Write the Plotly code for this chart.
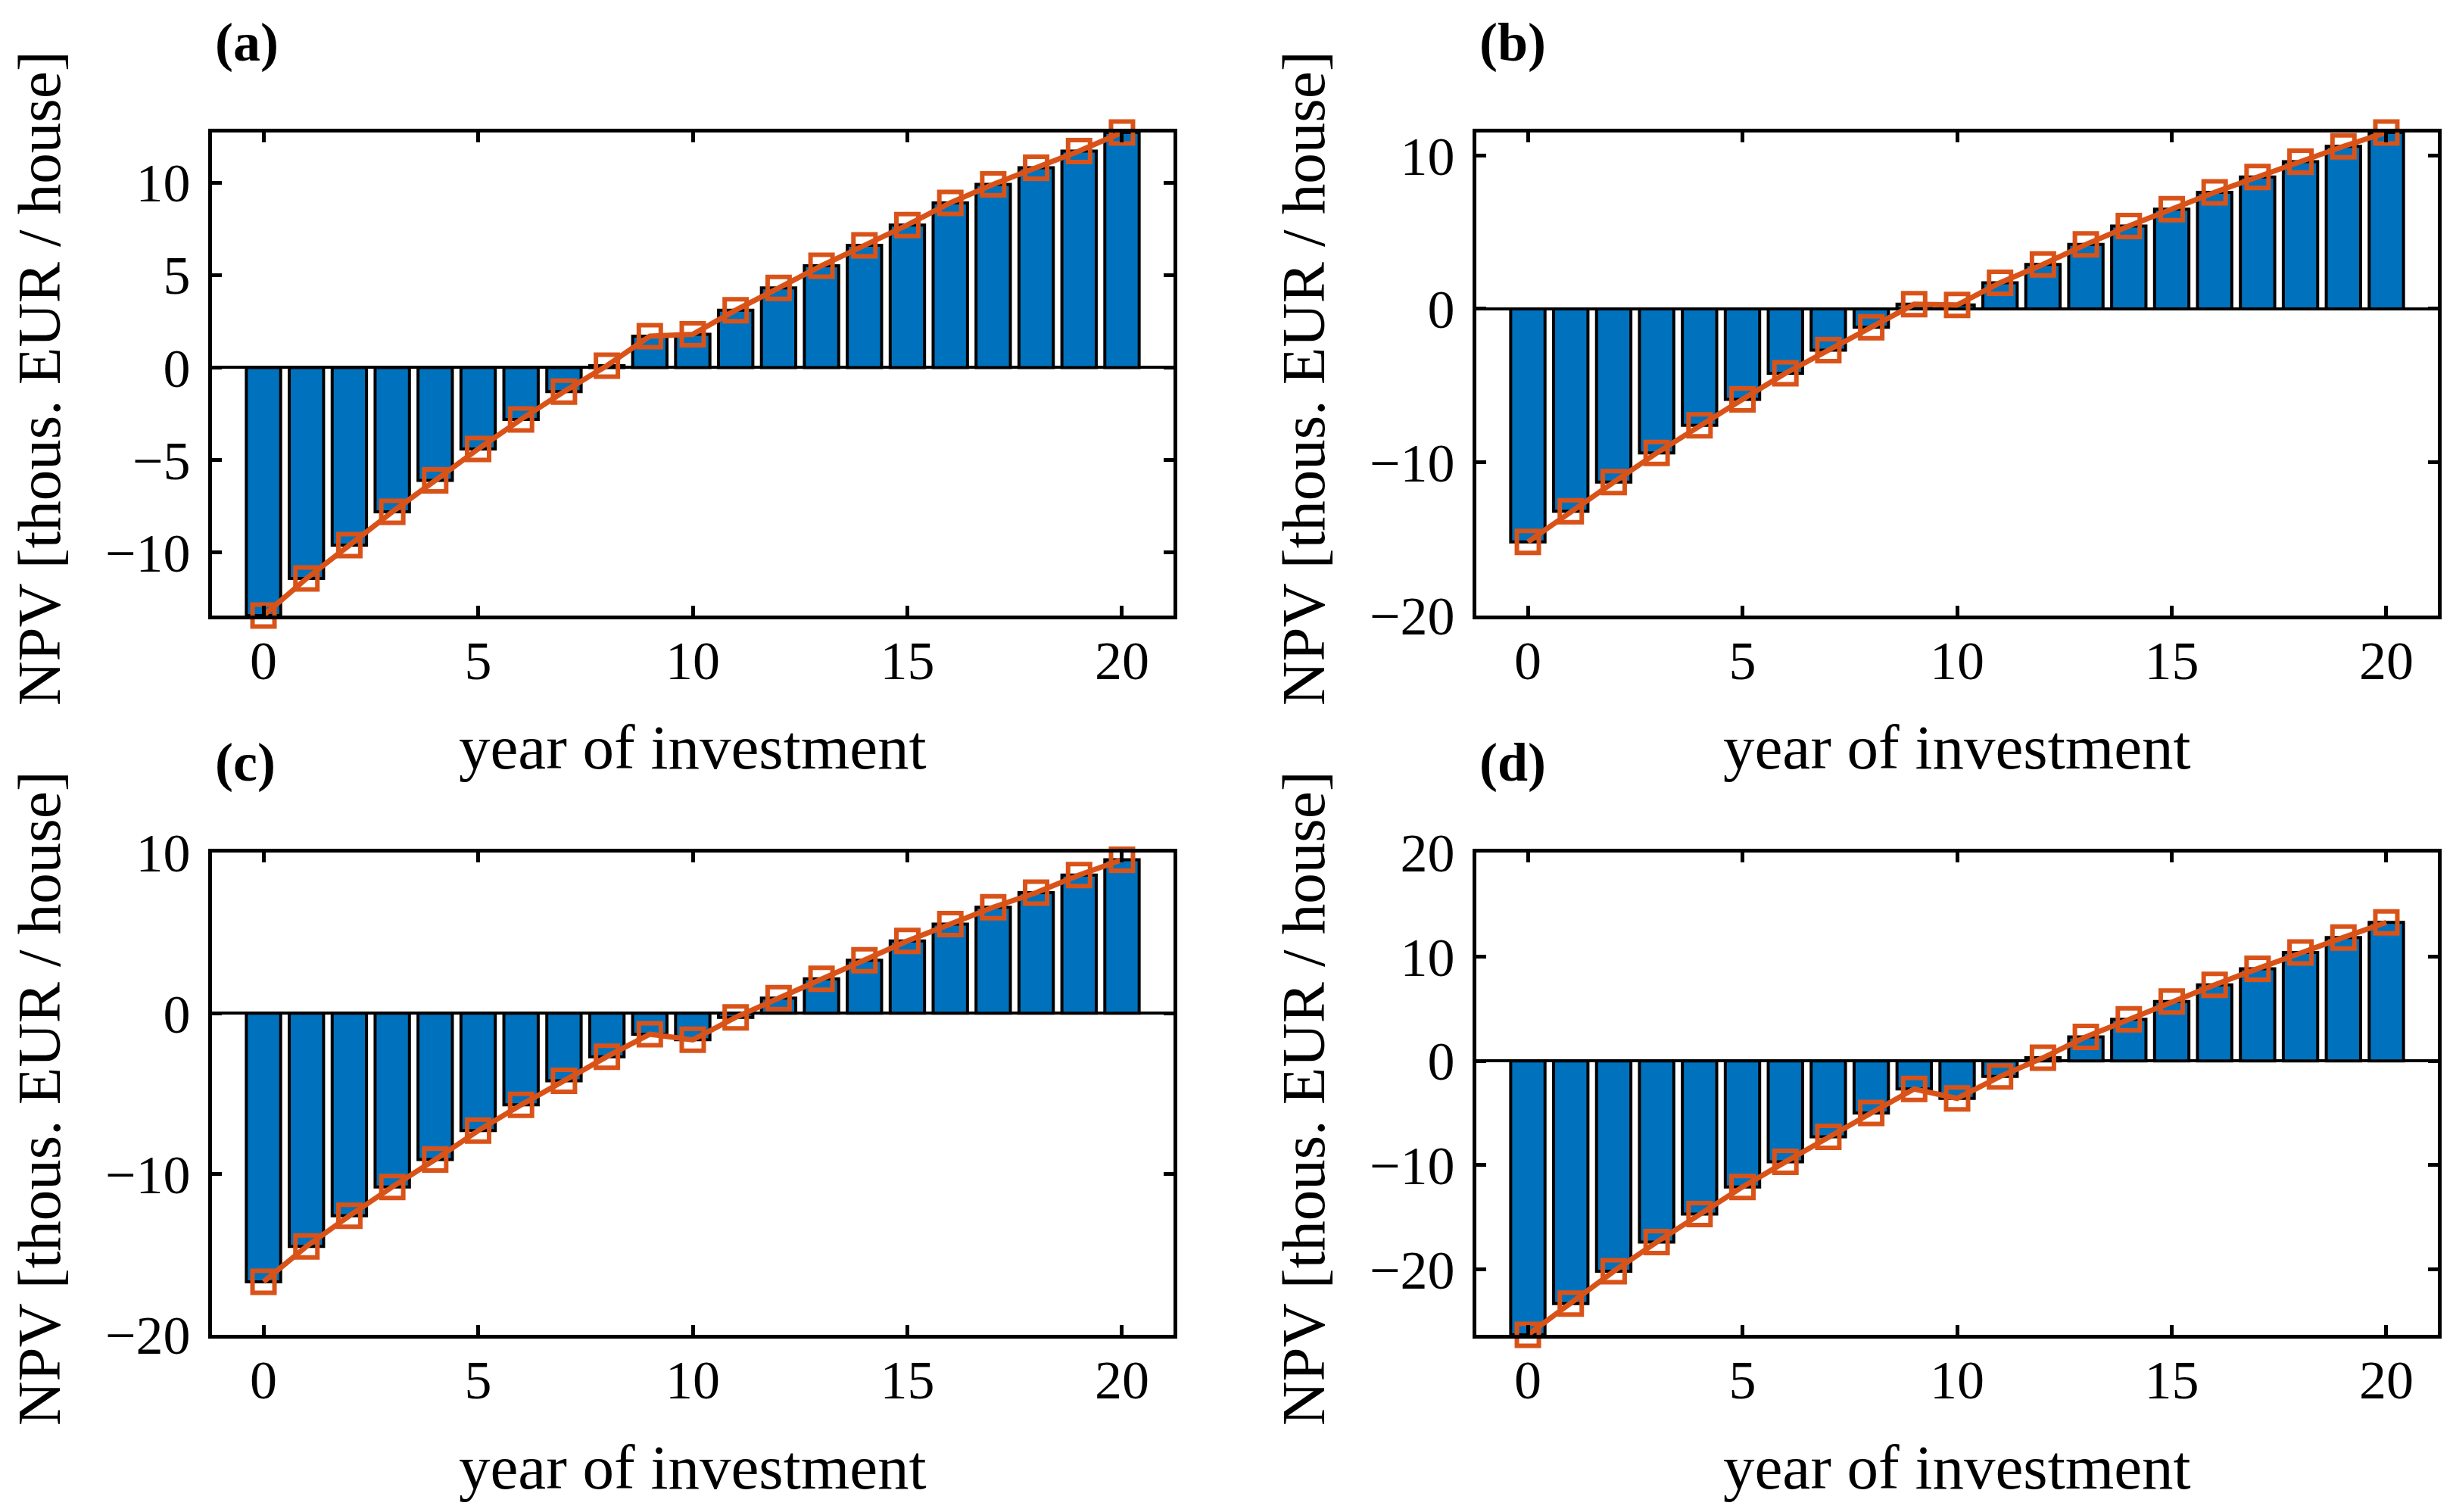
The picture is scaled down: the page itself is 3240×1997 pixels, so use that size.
import plotly.graph_objects as go

# ---------------- data ----------------
years = list(range(21))
npv_a = [-13.4, -11.4, -9.6, -7.8, -6.1, -4.4, -2.8, -1.3, 0.1, 1.7, 1.8,
         3.1, 4.3, 5.5, 6.6, 7.7, 8.9, 9.9, 10.8, 11.7, 12.7]
npv_b = [-15.2, -13.2, -11.3, -9.4, -7.6, -5.9, -4.2, -2.7, -1.2, 0.3, 0.25,
         1.7, 2.9, 4.2, 5.4, 6.5, 7.6, 8.6, 9.6, 10.6, 11.5]
npv_c = [-16.7, -14.5, -12.6, -10.8, -9.1, -7.3, -5.7, -4.2, -2.7, -1.3, -1.65,
         -0.25, 0.95, 2.15, 3.3, 4.5, 5.55, 6.6, 7.5, 8.6, 9.55]
npv_d = [-26.3, -23.3, -20.2, -17.4, -14.7, -12.1, -9.7, -7.3, -5.0, -2.7, -3.6,
         -1.5, 0.3, 2.3, 4.0, 5.7, 7.3, 8.85, 10.4, 11.85, 13.3]

panel_labels = ["(a)", "(b)", "(c)", "(d)"]
x_ticks = [0, 5, 10, 15, 20]
y_ticks = [[-10, -5, 0, 5, 10], [-20, -10, 0, 10], [-20, -10, 0, 10], [-20, -10, 0, 10, 20]]
y_ranges = [[-13.4, 12.7], [-20, 11.5], [-20, 10], [-26.3, 20]]
x_title = "year of investment"
y_title = "NPV [thous. EUR / house]"

BLUE = "#0072BD"
ORANGE = "#D95319"
FONT = "Liberation Serif"

# ---------------- layout geometry (paper fractions) ----------------
W, H = 3240, 1997
OFF = 8  # page body margin compensation
def px(v):
    return (v - OFF) / W
def py(v):
    return 1 - (v - OFF) / H

x_doms = [[px(280), px(1550)], [px(1950), px(3220)]]
y_doms = [[py(813), py(175)], [py(1763), py(1126)]]
left_px = [280, 1950]

fig = go.Figure()
series = [npv_a, npv_b, npv_c, npv_d]
annotations = []

for i, vals in enumerate(series):
    r, c = divmod(i, 2)
    n = i + 1
    xa = "x" if n == 1 else f"x{n}"
    ya = "y" if n == 1 else f"y{n}"
    fig.add_trace(go.Bar(
        x=years, y=vals, width=0.8,
        marker=dict(color=BLUE, line=dict(color="black", width=4)),
        xaxis=xa, yaxis=ya, showlegend=False,
    ))
    fig.add_trace(go.Scatter(
        x=years, y=vals, mode="lines+markers",
        line=dict(color=ORANGE, width=7),
        marker=dict(symbol="square-open", size=29, color=ORANGE,
                    line=dict(color=ORANGE, width=6)),
        cliponaxis=False,
        xaxis=xa, yaxis=ya, showlegend=False,
    ))
    axis_common = dict(
        showline=True, linecolor="black", linewidth=5, mirror="ticks",
        ticks="inside", ticklen=13, tickwidth=5, tickcolor="black",
        showgrid=False, automargin=False,
        tickfont=dict(family=FONT, size=72, color="black"),
    )
    fig.layout[f"xaxis{'' if n == 1 else n}"] = dict(
        domain=x_doms[c], anchor=ya, range=[-1.2, 21.2],
        tickvals=x_ticks, zeroline=False, ticklabelstandoff=-7,
        **axis_common,
    )
    fig.layout[f"yaxis{'' if n == 1 else n}"] = dict(
        domain=y_doms[r], anchor=xa, range=y_ranges[i],
        tickvals=y_ticks[i], zeroline=True, zerolinecolor="black",
        zerolinewidth=4, ticklabelstandoff=9,
        **axis_common,
    )
    # panel label
    annotations.append(dict(
        text=f"<b>{panel_labels[i]}</b>", xref="paper", yref="paper",
        x=px(left_px[c] + 2), y=py(56 + 951 * r),
        xanchor="left", yanchor="middle", showarrow=False,
        font=dict(family=FONT, size=72, color="black"),
    ))
    # x title
    annotations.append(dict(
        text=x_title, xref="paper", yref="paper",
        x=(x_doms[c][0] + x_doms[c][1]) / 2, y=py(987 + 951 * r),
        xanchor="center", yanchor="middle", showarrow=False,
        font=dict(family=FONT, size=83, color="black"),
    ))
    # y title
    annotations.append(dict(
        text=y_title, xref="paper", yref="paper", textangle=-90,
        x=px(left_px[c] - 228), y=py(500 + 951 * r),
        xanchor="center", yanchor="middle", showarrow=False,
        font=dict(family=FONT, size=81, color="black"),
    ))

fig.update_layout(
    template="none",
    width=W, height=H,
    margin=dict(l=0, r=0, t=0, b=0, pad=0, autoexpand=False),
    paper_bgcolor="white", plot_bgcolor="white",
    barmode="overlay",
    annotations=annotations,
    font=dict(family=FONT, color="black"),
)

fig.write_html("out.html")
